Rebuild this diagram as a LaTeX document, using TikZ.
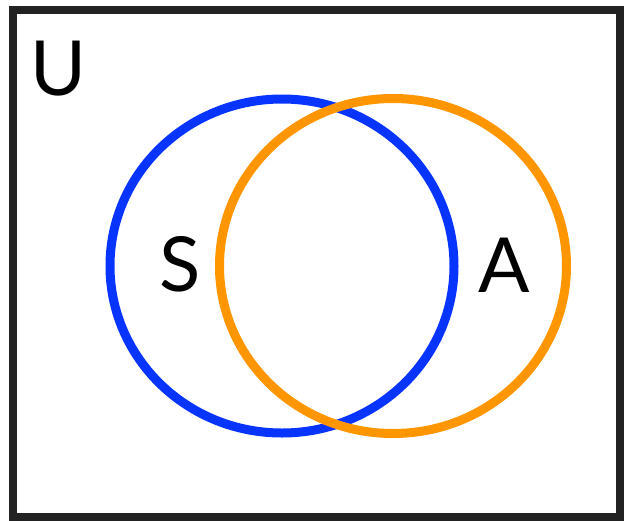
\documentclass[tikz,border=0pt]{standalone}
\usepackage{fontspec}
\setmainfont{Lato}
\usepackage{tikz}
\usetikzlibrary{shapes.geometric,positioning}

\definecolor{setblue}{RGB}{8,52,255}
\definecolor{setorange}{RGB}{255,150,0}
\definecolor{framegray}{RGB}{34,34,34}

\begin{document}
\begin{tikzpicture}[
  x=1pt,y=-1pt,
  every node/.style={font=\fontsize{76}{80}\selectfont},
  setring/.style={draw,ellipse,line width=9pt,inner sep=0pt,minimum width=344pt,minimum height=334pt},
  universe/.style={draw=framegray,line width=8pt}]

\useasboundingbox (0,0) rectangle (624,520);
\draw[universe] (13,10) rectangle (620,517);

\node[setring,draw=setblue] (S) at (282,266) {};
\node[setring,draw=setorange,minimum width=347pt,minimum height=335pt] (A) at (393,266) {};

\node (lblU) at (58,69) {U};
\node (lblS) at (180,264) {S};
\node (lblA) at (504,265) {A};
\end{tikzpicture}
\end{document}
